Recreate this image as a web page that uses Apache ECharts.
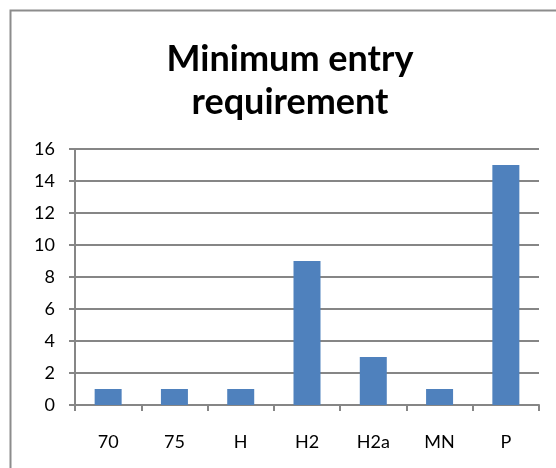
<!DOCTYPE html>
<html>
<head>
<meta charset="utf-8">
<script src="https://cdn.jsdelivr.net/npm/echarts@6/dist/echarts.min.js"></script>
<style>
  html, body { margin: 0; padding: 0; background: #fff; }
  #chart { width: 556px; height: 468px; }
</style>
</head>
<body>
<div id="chart"></div>
<script>
// Minimum entry requirement counts by category
const categories = ['70', '75', 'H', 'H2', 'H2a', 'MN', 'P'];
const counts = [1, 1, 1, 9, 3, 1, 15];
const yTicks = { min: 0, max: 16, interval: 2 };

const chart = echarts.init(document.getElementById('chart'), null, { renderer: 'canvas' });

chart.setOption({
  backgroundColor: '#ffffff',
  animation: false,
  textStyle: { fontFamily: 'Lato, "Open Sans", sans-serif' },
  title: {
    text: 'Minimum entry\nrequirement',
    left: 285,
    textAlign: 'center',
    top: 33,
    textStyle: {
      fontFamily: 'Lato, "Open Sans", sans-serif',
      fontWeight: 'bold',
      fontSize: 36,
      lineHeight: 43,
      color: '#000000'
    }
  },
  graphic: [{
    type: 'rect',
    shape: { x: 10.5, y: 10.5, width: 600, height: 600 },
    style: { fill: 'none', stroke: '#8c8c8c', lineWidth: 2 },
    silent: true
  }],
  grid: { left: 75, right: 17, top: 149, bottom: 63, containLabel: false },
  xAxis: {
    type: 'category',
    data: categories,
    axisLine: { lineStyle: { color: '#868686', width: 2 } },
    axisTick: { show: true, length: 6, inside: false, lineStyle: { color: '#868686', width: 2 } },
    axisLabel: { color: '#000', fontSize: 18, margin: 28, fontFamily: 'Lato, "Open Sans", sans-serif' },
    splitLine: { show: false }
  },
  yAxis: {
    type: 'value',
    min: yTicks.min,
    max: yTicks.max,
    interval: yTicks.interval,
    axisLine: { show: true, lineStyle: { color: '#868686', width: 2 } },
    axisTick: { show: true, length: 6, lineStyle: { color: '#868686', width: 2 } },
    axisLabel: { color: '#000', fontSize: 18, margin: 20, fontFamily: 'Lato, "Open Sans", sans-serif' },
    splitLine: { show: true, lineStyle: { color: '#868686', width: 2 } }
  },
  series: [{
    type: 'bar',
    data: counts,
    barWidth: 27,
    itemStyle: { color: '#4f81bd' }
  }]
});
</script>
</body>
</html>
